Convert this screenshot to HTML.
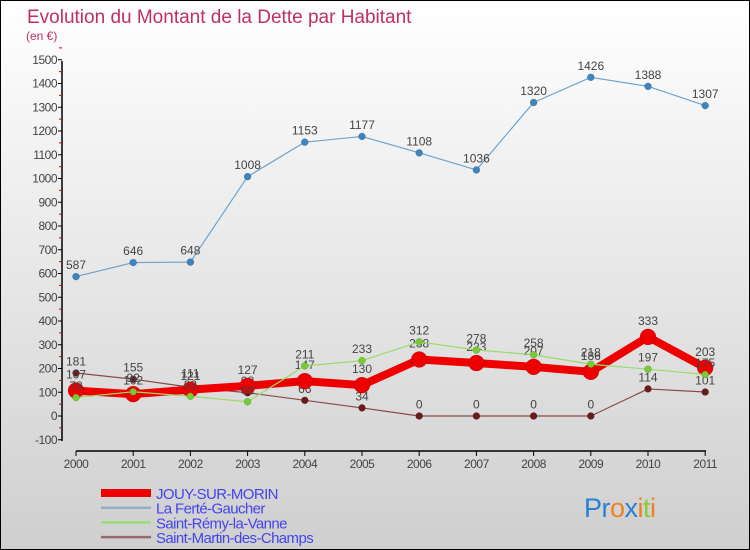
<!DOCTYPE html>
<html><head><meta charset="utf-8"><style>
html,body{margin:0;padding:0}
body{width:750px;height:550px;overflow:hidden;font-family:"Liberation Sans",sans-serif}
#wrap{position:relative;width:748px;height:548px;border:1px solid #000;background:linear-gradient(#ffffff,#cfcfcf)}
</style></head><body>
<div id="wrap">
<svg id="chart" width="748" height="548" style="position:absolute;left:0;top:0"></svg>
</div>
<script>
const years = [2000,2001,2002,2003,2004,2005,2006,2007,2008,2009,2010,2011];
const jouy = [107,92,111,127,147,130,238,223,207,186,333,203];
const ferte = [587,646,648,1008,1153,1177,1108,1036,1320,1426,1388,1307];
const remy = [78,102,83,60,211,233,312,278,258,218,197,175];
const martin = [181,155,121,98,66,34,0,0,0,0,114,101];
const yTicks = [-100,0,100,200,300,400,500,600,700,800,900,1000,1100,1200,1300,1400,1500];
const seriesNames = ["JOUY-SUR-MORIN","La Ferté-Gaucher","Saint-Rémy-la-Vanne","Saint-Martin-des-Champs"];

const NS="http://www.w3.org/2000/svg";
const svg=document.getElementById('chart');
function xS(i){return 75+i*57.2;}
function yS(v){return 415-v*0.2375;}
function el(tag,attrs,parent){const e=document.createElementNS(NS,tag);for(const k in attrs)e.setAttribute(k,attrs[k]);(parent||svg).appendChild(e);return e;}

const t=el('text',{x:26,y:22,'font-size':19,fill:'#c0305e'});t.textContent='Evolution du Montant de la Dette par Habitant';


const st=el('text',{x:25,y:39,'font-size':12,fill:'#c0305e'});st.textContent='(en €)';



const ya=el('line',{x1:61,y1:60,x2:61,y2:440,stroke:'#000','stroke-width':1.5});


yTicks.forEach(v=>{
  el('line',{x1:57,x2:61,y1:yS(v),y2:yS(v),stroke:'#000'});
  el('line',{x1:58,x2:61,y1:yS(v+50),y2:yS(v+50),stroke:'#d00'});
  const l=el('text',{x:56,y:yS(v)+4,'font-size':12,'text-anchor':'end',fill:'#444','letter-spacing':'-0.5'});l.textContent=v;
  
  
});
const xa=el('line',{x1:75,y1:450,x2:705,y2:450,stroke:'#000','stroke-width':1.5});


years.forEach((y,i)=>{
  el('line',{x1:xS(i),x2:xS(i),y1:450,y2:455,stroke:'#000'});
  const l=el('text',{x:xS(i),y:467,'font-size':12,'text-anchor':'middle',fill:'#444','letter-spacing':'-0.5'});l.textContent=y;
  
  
});

function series(vals,color,w,r,dot,name){
  const g=el('g',{});
  
  
  el('polyline',{points:vals.map((v,i)=>xS(i)+','+yS(v)).join(' '),fill:'none',stroke:color,'stroke-width':w,'stroke-linejoin':'round'},g);
  vals.forEach((v,i)=>{
    const c=el('circle',{cx:xS(i),cy:yS(v),r:r,fill:dot,stroke:'rgba(0,0,0,0.25)','stroke-width':0.5},g);
    
    
    const l=el('text',{x:xS(i),y:yS(v)-r-4,'font-size':12,'text-anchor':'middle',fill:'#444'},g);l.textContent=v;
    
    
  });
}
series(ferte,'#6fa3cc',1.2,3.5,'#3d85c0','series-la-ferte-gaucher');
series(martin,'#8a4a4a',1.2,3.5,'#6b1a1a','series-saint-martin-des-champs');
series(jouy,'#ee0000',8,8,'#ee0000','series-jouy-sur-morin');
series(remy,'#99dd66',1.2,3.5,'#77cc33','series-saint-remy-la-vanne');

const lc=['#ee0000','#8fb0c8','#99dd77','#9a6a6a'], lw=[8,2.5,2.5,2.5];
seriesNames.forEach((n,i)=>{
  const y=492+i*14.7;
  const g=el('g',{});
  
  
  el('line',{x1:100,x2:150,y1:y,y2:y,stroke:lc[i],'stroke-width':lw[i]},g);
  const l=el('text',{x:155,y:y+6,'font-size':15,fill:'#4444ee','letter-spacing':'-0.6'},g);l.textContent=n;
});
const logo=el('text',{x:583,y:516,'font-size':27,'letter-spacing':'-0.5'});


[['Pr','#2a7fd0'],['o','#f08020'],['x','#2a7fd0'],['i','#f08020'],['t','#88cc33'],['i','#f08020']].forEach(([s,c])=>{const ts=el('tspan',{fill:c},logo);ts.textContent=s;});
</script>
</body></html>
